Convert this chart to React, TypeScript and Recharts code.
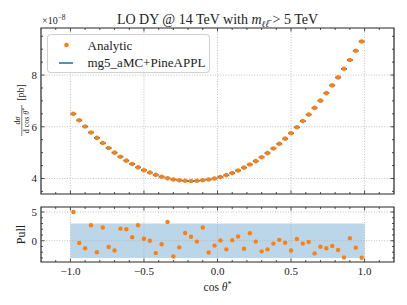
import React from 'react';
import {
  ScatterChart,
  Scatter,
  XAxis,
  YAxis,
  ReferenceLine,
  ReferenceArea,
  ErrorBar,
  Legend,
  Customized,
} from 'recharts';

// ---------- data ----------
const cosTheta = [
  -0.98, -0.94, -0.9, -0.86, -0.82, -0.78, -0.74, -0.7, -0.66, -0.62,
  -0.58, -0.54, -0.5, -0.46, -0.42, -0.38, -0.34, -0.3, -0.26, -0.22,
  -0.18, -0.14, -0.1, -0.06, -0.02, 0.02, 0.06, 0.1, 0.14, 0.18,
  0.22, 0.26, 0.3, 0.34, 0.38, 0.42, 0.46, 0.5, 0.54, 0.58,
  0.62, 0.66, 0.7, 0.74, 0.78, 0.82, 0.86, 0.9, 0.94, 0.98,
];
// dσ/dcosθ* in units of 1e-8 pb
const analytic = [
  6.5, 6.25, 6.01, 5.78, 5.57, 5.37, 5.18, 5.0, 4.84, 4.69,
  4.56, 4.43, 4.32, 4.23, 4.14, 4.07, 4.01, 3.96, 3.93, 3.91,
  3.9, 3.91, 3.93, 3.96, 4.0, 4.06, 4.13, 4.21, 4.31, 4.42,
  4.54, 4.67, 4.82, 4.98, 5.16, 5.34, 5.54, 5.75, 5.98, 6.22,
  6.47, 6.73, 7.01, 7.3, 7.6, 7.91, 8.24, 8.58, 8.94, 9.3,
];
const pineappl = [
  6.5, 6.25, 6.01, 5.78, 5.57, 5.37, 5.18, 5.0, 4.84, 4.69,
  4.56, 4.43, 4.32, 4.23, 4.14, 4.07, 4.01, 3.96, 3.93, 3.91,
  3.9, 3.91, 3.93, 3.96, 4.0, 4.06, 4.13, 4.21, 4.31, 4.42,
  4.54, 4.67, 4.82, 4.98, 5.16, 5.34, 5.54, 5.75, 5.98, 6.22,
  6.47, 6.73, 7.01, 7.3, 7.6, 7.91, 8.24, 8.58, 8.94, 9.3,
];
const binHalfWidth = 0.02;
const pull = [
  5.0, -0.4, -1.3, 2.7, -2.0, 2.3, -1.1, -1.7, 2.1, 2.0,
  0.6, 2.7, 0.35, 0.0, -2.15, -0.6, 3.25, -2.75, -1.15, 1.35,
  0.7, -0.15, 2.3, -2.05, -0.85, 0.05, -1.5, 0.1, 0.75, -1.4,
  1.3, -0.15, -1.85, -1.5, -0.5, 0.15, -0.35, -1.7, 0.3, -0.5,
  -0.2, -2.2, -1.05, -1.3, -0.9, -1.6, -2.9, 0.45, -1.2, -2.95,
];
const pullBand = [-3, 3];
const bandRange = [-1, 1];

const xMajorTicks = [-1, -0.5, 0, 0.5, 1];
const xMinorTicks = [
  -1.1, -0.9, -0.8, -0.7, -0.6, -0.4, -0.3, -0.2, -0.1,
  0.1, 0.2, 0.3, 0.4, 0.6, 0.7, 0.8, 0.9, 1.1,
];
const mainYMajor = [4, 6, 8];
const mainYMinor = [3.5, 4.5, 5, 5.5, 6.5, 7, 7.5, 8.5, 9, 9.5];
const pullYMajor = [0, 5];
const pullYMinor = [-3, -2, -1, 1, 2, 3, 4];

const xDomain = [-1.2, 1.2];
const mainYDomain = [3.4, 9.82];
const pullYDomain = [-3.7, 5.87];

const seriesNames = { analytic: 'Analytic', mg5: 'mg5_aMC+PineAPPL' };

// ---------- styling / layout ----------
const ORANGE = '#ff7f0e';
const BLUE = '#1f77b4';
const FRAME = '#262626';
const GRID = '#b0b0b0';
const FONT = '"Liberation Serif", "DejaVu Serif", serif';
const W = 407;
const PLOT_L = 41;
const PLOT_R = 394;
const H1 = 200;
const M1_TOP = 28;
const X1_H = 6;
const P1_TOP = M1_TOP;
const P1_BOT = H1 - X1_H;
const H2 = 105;
const M2_TOP = 7;
const X2_H = 43;
const P2_TOP = M2_TOP;
const P2_BOT = H2 - X2_H;

const mainAnalyticData = cosTheta.map((x, i) => ({ x, y: analytic[i] }));
const mainMgData = cosTheta.map((x, i) => ({ x, y: pineappl[i], xerr: binHalfWidth }));
const pullData = cosTheta.map((x, i) => ({ x, y: pull[i] }));
const xTicks = [...xMajorTicks, ...xMinorTicks].sort((a, b) => a - b);
const mainYTicks = [...mainYMajor, ...mainYMinor].sort((a, b) => a - b);
const pullYTicks = [...pullYMajor, ...pullYMinor].sort((a, b) => a - b);

const fmtX = (v: number) => {
  const s = Math.abs(v).toFixed(1);
  return v < 0 ? '\u2212' + s : s;
};

const makeXTick = (top: number, bottom: number, showLabel: boolean) => (props: any) => {
  const { x, payload } = props;
  const v = payload.value;
  const major = xMajorTicks.includes(v);
  const len = major ? 3.5 : 2;
  return (
    <g>
      <line x1={x} x2={x} y1={bottom} y2={bottom - len} stroke={FRAME} strokeWidth={0.8} />
      <line x1={x} x2={x} y1={top} y2={top + len} stroke={FRAME} strokeWidth={0.8} />
      {showLabel && major ? (
        <text x={x} y={bottom + 13} textAnchor="middle" fontSize={11} fontFamily={FONT} fill="#222">
          {fmtX(v)}
        </text>
      ) : null}
    </g>
  );
};

const makeYTick = (majors: number[], labelX: number) => (props: any) => {
  const { y, payload } = props;
  const v = payload.value;
  const major = majors.includes(v);
  const len = major ? 3.5 : 2;
  return (
    <g>
      <line x1={PLOT_L} x2={PLOT_L + len} y1={y} y2={y} stroke={FRAME} strokeWidth={0.8} />
      <line x1={PLOT_R} x2={PLOT_R - len} y1={y} y2={y} stroke={FRAME} strokeWidth={0.8} />
      {major ? (
        <text x={labelX} y={y} dy="0.35em" textAnchor="end" fontSize={11} fontFamily={FONT} fill="#222">
          {String(v)}
        </text>
      ) : null}
    </g>
  );
};

const MainLabels = () => (
  <g fontFamily={FONT} fill="#222">
    <text x={217.5} y={24} textAnchor="middle" fontSize={14}>
      LO DY @ 14 TeV with <tspan fontStyle="italic">m</tspan>
      <tspan fontSize={9} dy={3} fontStyle="italic">{'\u2113\u2113\u0305'}</tspan>
      <tspan dy={-3}>{' > 5 TeV'}</tspan>
    </text>
    <text x={42} y={24} fontSize={10}>
      {'\u00d710'}
      <tspan fontSize={7.5} dy={-4}>{'\u22128'}</tspan>
    </text>
    <g transform="translate(21,111) rotate(-90)">
      <text x={-9.5} y={-0.8} textAnchor="middle" fontSize={8}>
        d<tspan fontStyle="italic">{'\u03c3'}</tspan>
      </text>
      <line x1={-25} x2={6} y1={0.8} y2={0.8} stroke="#222" strokeWidth={0.6} />
      <text x={-9.5} y={7.6} textAnchor="middle" fontSize={8}>
        d cos <tspan fontStyle="italic">{'\u03b8'}</tspan>
        <tspan fontSize={6} dy={-2.5}>*</tspan>
      </text>
      <text x={18.5} y={2.5} textAnchor="middle" fontSize={10}>[pb]</text>
    </g>
  </g>
);

const PullLabels = () => (
  <g fontFamily={FONT} fill="#222">
    <text transform={`translate(25,${(P2_TOP + P2_BOT) / 2}) rotate(-90)`} textAnchor="middle" fontSize={12}>
      Pull
    </text>
    <text x={217.5} y={91} textAnchor="middle" fontSize={11.5}>
      cos <tspan fontStyle="italic">{'\u03b8'}</tspan>
      <tspan fontSize={8} dy={-4}>*</tspan>
    </text>
  </g>
);

const LegendBox = () => (
  <div
    style={{
      width: 161,
      height: 37,
      border: '1px solid rgba(204,204,204,0.9)',
      borderRadius: 4,
      background: 'rgba(255,255,255,0.85)',
      position: 'relative',
      fontFamily: FONT,
      fontSize: 13,
      color: '#222',
    }}
  >
    <svg width={161} height={37} style={{ position: 'absolute', left: 0, top: 0 }}>
      <circle cx={18.5} cy={10} r={2.3} fill={ORANGE} />
      <line x1={11} x2={25} y1={28} y2={28} stroke={BLUE} strokeWidth={1.6} />
      <text x={39.5} y={14.5} fontSize={13} fontFamily={FONT} fill="#222">{seriesNames.analytic}</text>
      <text x={39.5} y={31.5} fontSize={13} fontFamily={FONT} fill="#222">{seriesNames.mg5}</text>
    </svg>
  </div>
);

export default function App() {
  return (
    <div style={{ position: 'absolute', left: 0, top: 0, width: W, height: 305, background: '#fff' }}>
      <div style={{ position: 'absolute', left: 0, top: 0 }}>
        <ScatterChart width={W} height={H1} margin={{ top: M1_TOP, right: W - PLOT_R, left: 0, bottom: 0 }}>
          <XAxis
            type="number"
            dataKey="x"
            domain={xDomain}
            ticks={xTicks}
            interval={0}
            height={X1_H}
            axisLine={false}
            tickLine={false}
            tick={makeXTick(P1_TOP, P1_BOT, false)}
            allowDataOverflow
          />
          <YAxis
            type="number"
            dataKey="y"
            domain={mainYDomain}
            ticks={mainYTicks}
            interval={0}
            width={PLOT_L}
            axisLine={false}
            tickLine={false}
            tick={makeYTick(mainYMajor, 37)}
            allowDataOverflow
          />
          {xMajorTicks.map((v) => (
            <ReferenceLine key={'gx' + v} x={v} stroke={GRID} strokeWidth={0.8} strokeDasharray="1 1.6" />
          ))}
          {mainYMajor.map((v) => (
            <ReferenceLine key={'gy' + v} y={v} stroke={GRID} strokeWidth={0.8} strokeDasharray="1 1.6" />
          ))}
          <ReferenceArea
            x1={xDomain[0]}
            x2={xDomain[1]}
            y1={mainYDomain[0]}
            y2={mainYDomain[1]}
            fill="none"
            fillOpacity={0}
            stroke={FRAME}
            strokeWidth={1.2}
            ifOverflow="visible"
          />
          <Scatter
            name={seriesNames.mg5}
            data={mainMgData}
            fill={BLUE}
            isAnimationActive={false}
            shape={() => <g />}
          >
            <ErrorBar dataKey="xerr" direction="x" width={0} stroke={BLUE} strokeWidth={1.8} isAnimationActive={false} />
          </Scatter>
          <Scatter
            name={seriesNames.analytic}
            data={mainAnalyticData}
            fill={ORANGE}
            isAnimationActive={false}
            shape={(p: any) => <circle cx={p.cx} cy={p.cy} r={2.3} fill={ORANGE} />}
          />
          <Legend
            layout="vertical"
            align="center"
            verticalAlign="middle"
            wrapperStyle={{ left: 47, top: 34, width: 163, height: 39 }}
            content={() => <LegendBox />}
          />
          <Customized component={MainLabels} />
        </ScatterChart>
      </div>
      <div style={{ position: 'absolute', left: 0, top: H1 }}>
        <ScatterChart width={W} height={H2} margin={{ top: M2_TOP, right: W - PLOT_R, left: 0, bottom: 0 }}>
          <XAxis
            type="number"
            dataKey="x"
            domain={xDomain}
            ticks={xTicks}
            interval={0}
            height={X2_H}
            axisLine={false}
            tickLine={false}
            tick={makeXTick(P2_TOP, P2_BOT, true)}
            allowDataOverflow
          />
          <YAxis
            type="number"
            dataKey="y"
            domain={pullYDomain}
            ticks={pullYTicks}
            interval={0}
            width={PLOT_L}
            axisLine={false}
            tickLine={false}
            tick={makeYTick(pullYMajor, 37)}
            allowDataOverflow
          />
          <ReferenceArea
            x1={bandRange[0]}
            x2={bandRange[1]}
            y1={pullBand[0]}
            y2={pullBand[1]}
            fill={BLUE}
            fillOpacity={0.3}
            stroke="none"
            ifOverflow="visible"
          />
          {xMajorTicks.map((v) => (
            <ReferenceLine key={'px' + v} x={v} stroke={GRID} strokeWidth={0.8} strokeDasharray="1 1.6" />
          ))}
          {pullYMajor.map((v) => (
            <ReferenceLine key={'py' + v} y={v} stroke={GRID} strokeWidth={0.8} strokeDasharray="1 1.6" />
          ))}
          <ReferenceArea
            x1={xDomain[0]}
            x2={xDomain[1]}
            y1={pullYDomain[0]}
            y2={pullYDomain[1]}
            fill="none"
            fillOpacity={0}
            stroke={FRAME}
            strokeWidth={1.2}
            ifOverflow="visible"
          />
          <Scatter
            name="Pull"
            data={pullData}
            fill={ORANGE}
            isAnimationActive={false}
            shape={(p: any) => <circle cx={p.cx} cy={p.cy} r={2.2} fill={ORANGE} />}
          />
          <Customized component={PullLabels} />
        </ScatterChart>
      </div>
    </div>
  );
}
